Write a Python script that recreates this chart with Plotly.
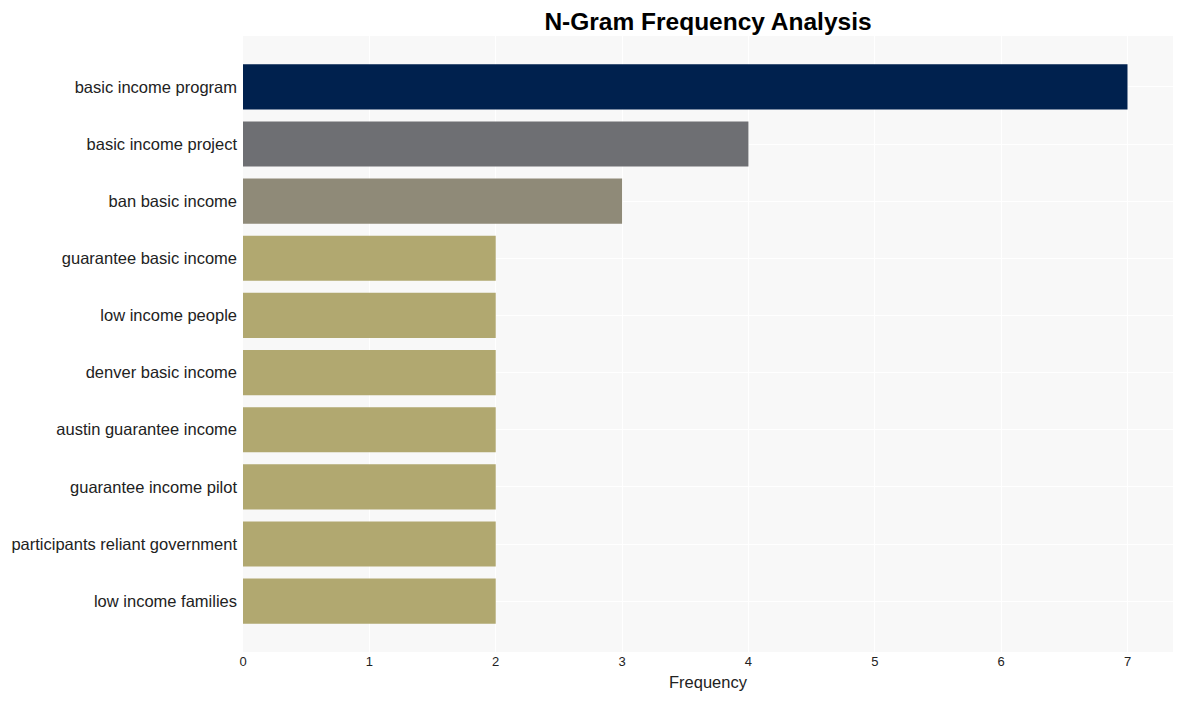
import plotly.graph_objects as go

ngrams = [
    "basic income program",
    "basic income project",
    "ban basic income",
    "guarantee basic income",
    "low income people",
    "denver basic income",
    "austin guarantee income",
    "guarantee income pilot",
    "participants reliant government",
    "low income families",
]
frequencies = [7, 4, 3, 2, 2, 2, 2, 2, 2, 2]
bar_colors = ["#00214e", "#6e6f73", "#8f8a78"] + ["#b1a870"] * 7

fig = go.Figure(
    go.Bar(
        x=frequencies,
        y=ngrams,
        orientation="h",
        marker=dict(color=bar_colors, line=dict(width=0)),
        width=0.79,
    )
)

# page body has an 8px default margin; compensate so the plot lands where the reference has it
W, H = 1174, 693
fig.update_layout(
    width=W,
    height=H,
    margin=dict(l=235, r=9, t=28, b=49, autoexpand=False),
    paper_bgcolor="white",
    plot_bgcolor="#f8f8f8",
    font=dict(family="Liberation Sans, Arial, sans-serif", color="#222222"),
    title=dict(
        text="<b>N-Gram Frequency Analysis</b>",
        x=0.5,
        xref="paper",
        xanchor="center",
        y=1 - 13.5 / H,
        yref="container",
        yanchor="middle",
        font=dict(size=24.5, color="#000000"),
        automargin=False,
    ),
    showlegend=False,
)

fig.update_xaxes(
    title=dict(text="Frequency", font=dict(size=16.5), standoff=8),
    range=[0, 7.36],
    dtick=1,
    showgrid=True,
    gridcolor="#ffffff",
    gridwidth=1,
    zeroline=False,
    tickfont=dict(size=13),
    ticks="",
    automargin=False,
)
fig.update_yaxes(
    categoryorder="array",
    categoryarray=ngrams,
    range=[9.89, -0.89],
    showgrid=True,
    gridcolor="#ffffff",
    gridwidth=1,
    tickfont=dict(size=16.5),
    ticks="",
    ticklabelstandoff=5,
    automargin=False,
)

fig.write_html("out.html")
